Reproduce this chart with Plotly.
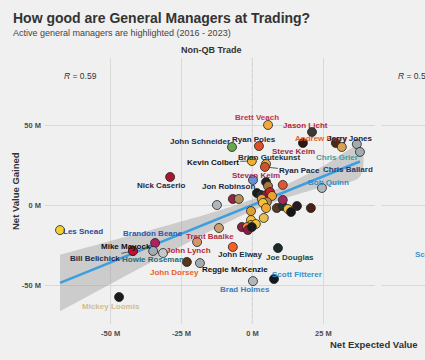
import numpy as np
import plotly.graph_objects as go

# ---------------- data (values in millions) ----------------
gm_names = [
    "Brett Veach", "Jason Licht", "Steve Keim", "Andrew Berry", "Chris Ballard",
    "Jerry Jones", "Chris Grier", "Ryan Poles", "John Schneider", "Kevin Colbert",
    "Brian Gutekunst", "Ryan Pace", "Steven Keim", "", "",
    "", "Bob Quinn", "", "", "",
    "", "", "", "", "",
    "", "", "", "", "",
    "", "", "", "", "Jon Robinson",
    "", "", "", "", "",
    "", "", "", "", "",
    "Trent Baalke", "John Elway", "Joe Douglas", "Scott Fitterer", "Brad Holmes",
    "Reggie McKenzie", "John Dorsey", "John Lynch", "Brandon Beane", "Howie Roseman",
    "", "Mike Mayock", "Bill Belichick", "Les Snead", "Nick Caserio",
    "Mickey Loomis",
]
net_expected = [
    5.5, 21.0, 17.8, 29.4, 31.5,
    36.8, 37.9, 2.3, -7.2, -0.2,
    4.8, 4.4, 0.2, 4.8, 5.5,
    10.7, 24.5, 1.6, 3.0, 4.8,
    6.2, 6.9, 3.3, 5.1, 3.7,
    4.8, -0.5, 8.6, 10.7, 10.7,
    12.5, 13.6, 15.7, 20.6, -6.9,
    -4.8, -12.5, -0.5, 4.0, -0.5,
    1.2, -3.7, -1.9, -1.6, -0.2,
    -11.8, -6.9, 9.0, 7.6, 0.2,
    -18.5, -23.1, -19.5, -34.3, -35.0,
    -31.5, -42.1, -42.1, -67.8, -29.0,
    -47.0,
]
net_gained = [
    50.5, 46.1, 39.2, 39.2, 36.7,
    38.5, 33.6, 37.3, 36.7, 27.9,
    26.0, 24.2, 16.0, 14.7, 12.2,
    12.9, 11.0, 7.8, 6.6, 6.6,
    8.5, 6.0, 4.1, 2.2, 1.6,
    -1.6, -3.5, -1.6, -0.3, 3.5,
    -2.2, -4.1, -0.3, -1.6, 4.1,
    4.1, 0.3, -9.1, -7.8, -12.2,
    -11.6, -13.5, -13.5, -15.4, -13.5,
    -14.1, -26.0, -26.7, -46.1, -47.4,
    -36.1, -35.4, -22.9, -23.5, -28.5,
    -29.8, -28.5, -28.5, -15.4, 17.9,
    -57.4,
]
# fitted line and its confidence band
smooth_x = [-67.8, -50, -30, -15, 0, 10, 25, 37.9]
smooth_fit = [-48.5, -35.7, -21.3, -10.5, 0.3, 7.5, 18.3, 27.6]
smooth_hi = [-30.8, -22.2, -12.5, -4.9, 3.9, 11.4, 24.8, 37.0]
smooth_lo = [-66.3, -49.2, -30.1, -16.1, -3.3, 3.6, 11.7, 18.2]

r_values = ["0.59", "0.58"]
facet_titles = ["Non-QB Trade"]
x_ticks = [-50, -25, 0, 25]
x_tick_labels = ["-50 M", "-25 M", "0 M", "25 M"]
y_ticks = [-50, 0, 50]
y_tick_labels = ["-50 M", "0 M", "50 M"]
qb_label = "Scott Fitterer"

# ---------------- styles ----------------
point_colors = [
    "#f2a93b", "#3d3935", "#2a1a12", "#4a2a12", "#d9a055",
    "#a3aab0", "#a3aab0", "#d9502a", "#69a84f", "#f0b030",
    "#f0b030", "#d2502a", "#6a8ed8", "#222222", "#a5793d",
    "#e0553a", "#b0b7bc", "#1a1a1a", "#2a2a2a", "#8a1e2e",
    "#c02030", "#f0a030", "#e8a33a", "#b08a50", "#f3c13a",
    "#f0a830", "#e0a030", "#5a3520", "#203731", "#a0285a",
    "#f0c040", "#151515", "#2a1a20", "#4a2010", "#97233f",
    "#b0905a", "#b0b7bc", "#f3c13a", "#e8c050", "#f3c13a",
    "#f3c13a", "#8a1e3e", "#f08a30", "#8a1e3e", "#1a1a1a",
    "#c8a070", "#fb5f24", "#1a2a2a", "#101820", "#b0b7bc",
    "#a5acaf", "#5a3518", "#d9956a", "#b02060", "#a5acaf",
    "#c4c8cc", "#c60c30", "#c60c30", "#f2d030", "#a6192e",
    "#1a1a1a",
]
# label offset in pixels (dx right, dy down), colour, draw segment
label_style = {
    "Brett Veach": (-11, -7, "#c8304a", False),
    "Jason Licht": (-7, -7, "#b02838", False),
    "Steve Keim": (-9, 8, "#9b2a48", False),
    "Andrew Berry": (-14, -5, "#e8602a", False),
    "Chris Ballard": (6, 23, "#1a3a6a", False),
    "Jerry Jones": (-7, -6, "#1a2540", False),
    "Chris Grier": (-23, 6, "#3aa0a0", True),
    "Ryan Poles": (-5, -7, "#1a2540", False),
    "John Schneider": (-32, -5, "#1a2a45", False),
    "Kevin Colbert": (-39, 1, "#111111", True),
    "Brian Gutekunst": (3, -7, "#203731", False),
    "Ryan Pace": (35, 4, "#1a2540", True),
    "Steven Keim": (3, -5, "#a02c50", False),
    "Bob Quinn": (7, -5, "#3a8ac0", False),
    "Jon Robinson": (-4, -12, "#1a2a45", False),
    "Trent Baalke": (-9, 8, "#b03040", False),
    "John Elway": (8, 8, "#1a2a45", False),
    "Joe Douglas": (12, 9, "#1a4a3a", False),
    "Scott Fitterer": (23, -5, "#3a90c8", False),
    "Brad Holmes": (-8, 8, "#3a80b8", False),
    "Reggie McKenzie": (35, 6, "#111111", False),
    "John Dorsey": (-12, 11, "#e8602a", False),
    "John Lynch": (-9, 8, "#b02838", False),
    "Brandon Beane": (-2, -9, "#2a5ab0", False),
    "Howie Roseman": (0, 9, "#2a6a70", False),
    "Mike Mayock": (-7, -4, "#111111", False),
    "Bill Belichick": (-38, 8, "#1a2a45", True),
    "Les Snead": (23, 1, "#2a4a9a", False),
    "Nick Caserio": (-9, 9, "#1a2a45", False),
    "Mickey Loomis": (-8, 9, "#d4bc8d", False),
}

W, H = 425, 360
FONT = "Liberation Sans, Arial, sans-serif"
BG = "#f0f0f0"
GRID = "#d9d9d9"
ZERO = "#c0504d"

fig = go.Figure()
fig.add_trace(go.Scatter(
    x=smooth_x + smooth_x[::-1], y=smooth_hi + smooth_lo[::-1], fill="toself",
    fillcolor="rgba(150,150,150,0.4)", line=dict(width=0, shape="spline"), mode="lines",
    hoverinfo="skip", showlegend=False, xaxis="x", yaxis="y"))
fig.add_trace(go.Scatter(
    x=smooth_x, y=smooth_fit, mode="lines", line=dict(color="#3d9ee0", width=2.5),
    hoverinfo="skip", showlegend=False, xaxis="x", yaxis="y"))
fig.add_trace(go.Scatter(
    x=net_expected, y=net_gained, mode="markers", text=gm_names,
    marker=dict(size=9, color=point_colors, line=dict(width=0.8, color="#222222")),
    showlegend=False, xaxis="x", yaxis="y"))
# empty trace to instantiate second panel
fig.add_trace(go.Scatter(x=[None], y=[None], xaxis="x2", yaxis="y2", showlegend=False))

annotations = []
for name, xv, yv in zip(gm_names, net_expected, net_gained):
    if not name or name not in label_style:
        continue
    dx, dy, col, seg = label_style[name]
    base = dict(x=xv, y=yv, xref="x", yref="y", text="<b>%s</b>" % name,
                font=dict(family=FONT, size=8, color=col))
    if seg:
        base.update(showarrow=True, ax=dx, ay=dy, arrowhead=0, arrowwidth=0.8,
                    arrowcolor="#333333", standoff=4)
    else:
        base.update(showarrow=False, xshift=dx, yshift=-dy)
    annotations.append(base)


def px(xp):
    return xp / W


def py(yp):
    return 1 - yp / H


annotations += [
    dict(x=px(11), y=py(18), xref="paper", yref="paper", xanchor="left", yanchor="middle",
         text="<b>How good are General Managers at Trading?</b>", showarrow=False,
         font=dict(family=FONT, size=14, color="#333333")),
    dict(x=px(11), y=py(33), xref="paper", yref="paper", xanchor="left", yanchor="middle",
         text="Active general managers are highlighted (2016 - 2023)", showarrow=False,
         font=dict(family=FONT, size=9, color="#444444")),
    dict(x=px(211), y=py(50), xref="paper", yref="paper", xanchor="center", yanchor="middle",
         text="<b>%s</b>" % facet_titles[0], showarrow=False,
         font=dict(family=FONT, size=9, color="#333333")),
    dict(x=px(62), y=py(76), xref="paper", yref="paper", xanchor="left", yanchor="middle",
         text="<i>R</i> = %s" % r_values[0], showarrow=False,
         font=dict(family=FONT, size=8.5, color="#333333")),
    dict(x=px(396), y=py(76), xref="paper", yref="paper", xanchor="left", yanchor="middle",
         text="<i>R</i> = %s" % r_values[1], showarrow=False,
         font=dict(family=FONT, size=8.5, color="#333333")),
    dict(x=px(413), y=py(254), xref="paper", yref="paper", xanchor="left", yanchor="middle",
         text="<b>%s</b>" % qb_label, showarrow=False,
         font=dict(family=FONT, size=8, color="#3a90c8")),
    dict(x=px(420), y=py(344), xref="paper", yref="paper", xanchor="right", yanchor="middle",
         text="<b>Net Expected Value</b>", showarrow=False,
         font=dict(family=FONT, size=9.5, color="#333333")),
    dict(x=px(15), y=py(191), xref="paper", yref="paper", xanchor="center", yanchor="middle",
         text="<b>Net Value Gained</b>", showarrow=False, textangle=-90,
         font=dict(family=FONT, size=9.5, color="#333333")),
]

shapes = [
    dict(type="line", xref="x", yref="y domain", x0=0, x1=0, y0=0, y1=1,
         line=dict(color=ZERO, width=1, dash="3px,3px"), layer="below"),
    dict(type="line", xref="x domain", yref="y", x0=0, x1=1, y0=0, y1=0,
         line=dict(color=ZERO, width=1, dash="3px,3px"), layer="below"),
    dict(type="line", xref="x2 domain", yref="y2", x0=0, x1=1, y0=0, y1=0,
         line=dict(color=ZERO, width=1, dash="3px,3px"), layer="below"),
]

y_range = [-74.3, 92.5]
x_range = [-73.1, 43.2]
tickfont = dict(family=FONT, size=7.5, color="#4d4d4d", weight="bold")

fig.update_layout(
    width=W, height=H, margin=dict(l=0, r=0, t=0, b=0),
    paper_bgcolor=BG, plot_bgcolor=BG, font=dict(family=FONT),
    showlegend=False, annotations=annotations, shapes=shapes,
    xaxis=dict(domain=[45 / W, 375 / W], range=x_range, tickvals=x_ticks,
               ticktext=x_tick_labels, showgrid=True, gridcolor=GRID, gridwidth=0.8,
               zeroline=False, showline=False, tickfont=tickfont, ticks="",
               ticklabelstandoff=3, anchor="y"),
    yaxis=dict(domain=[1 - 324 / H, 1 - 58 / H], range=y_range, tickvals=y_ticks,
               ticktext=y_tick_labels, showgrid=True, gridcolor=GRID, gridwidth=0.8,
               zeroline=False, showline=False, tickfont=tickfont, ticks="",
               ticklabelstandoff=3, anchor="x"),
    xaxis2=dict(domain=[381 / W, 1], range=[x_range[0], x_range[0] + 44 / 2.84],
                tickvals=x_ticks, ticktext=x_tick_labels, showgrid=True, gridcolor=GRID,
                gridwidth=0.8, zeroline=False, showline=False, tickfont=tickfont,
                ticks="", anchor="y2"),
    yaxis2=dict(domain=[1 - 324 / H, 1 - 58 / H], range=y_range, tickvals=y_ticks,
                showticklabels=False, showgrid=True, gridcolor=GRID, gridwidth=0.8,
                zeroline=False, showline=False, ticks="", anchor="x2"),
)

fig.write_html(
    "out.html",
    config={"displayModeBar": False},
    post_script="document.body.style.margin='0';document.body.style.overflow='hidden';",
)
